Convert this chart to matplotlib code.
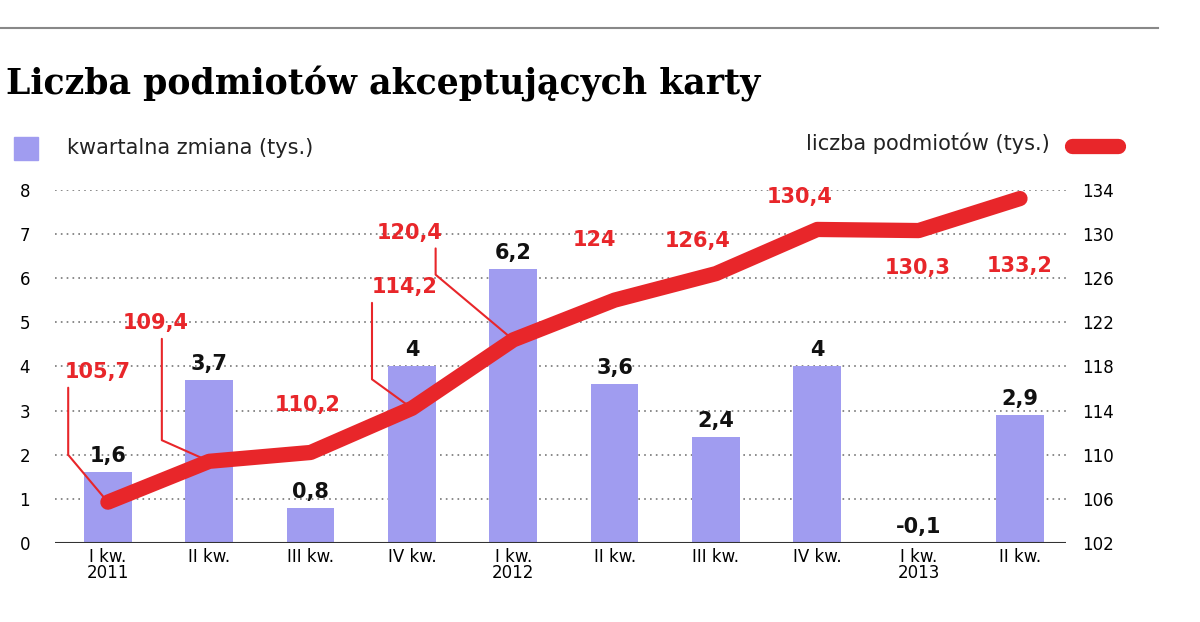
import matplotlib
matplotlib.use("Agg")
import matplotlib.pyplot as plt

categories = ["I kw.\n2011", "II kw.", "III kw.", "IV kw.", "I kw.\n2012", "II kw.", "III kw.", "IV kw.", "I kw.\n2013", "II kw."]
change = [1.6, 3.7, 0.8, 4, 6.2, 3.6, 2.4, 4, -0.1, 2.9]
total = [105.7, 109.4, 110.2, 114.2, 120.4, 124, 126.4, 130.4, 130.3, 133.2]
change_lbl = ["1,6", "3,7", "0,8", "4", "6,2", "3,6", "2,4", "4", "-0,1", "2,9"]
total_lbl = ["105,7", "109,4", "110,2", "114,2", "120,4", "124", "126,4", "130,4", "130,3", "133,2"]
# label offsets (pixels); leader: (relpos x, angle of diagonal) or None
offsets = [(-10, 130), (-54, 138), (-3, 47), (-7, 121), (-104, 107), (-20, 60), (-18, 33), (-18, 32), (-1, -37), (0, -67)]
leaders = [(0.05, -50), (0.6, -24), None, (0.0, -36), (0.9, -40), None, None, None, None, None]

BAR = "#a09cf0"; RED = "#e8262a"
fig = plt.figure(figsize=(12, 6.22), dpi=100)
fig.add_artist(plt.Line2D([0, 0.965], [0.955, 0.955], color="#888888", lw=1.5))
fig.text(0.005, 0.865, "Liczba podmiotów akceptujących karty", family="DejaVu Serif", weight="bold", fontsize=25, va="center")
fig.patches.append(plt.Rectangle((0.012, 0.742), 0.02, 0.037, transform=fig.transFigure, color=BAR))
fig.text(0.056, 0.762, "kwartalna zmiana (tys.)", fontsize=15, va="center", color="#222")
fig.text(0.875, 0.77, "liczba podmiotów (tys.)", fontsize=15, va="center", ha="right", color="#222")
fig.add_artist(plt.Line2D([0.893, 0.932], [0.765, 0.765], color=RED, lw=11, solid_capstyle="round"))

ax = fig.add_axes([0.046, 0.127, 0.842, 0.568])
x = list(range(len(categories)))
ax.bar(x, change, width=0.47, color=BAR, zorder=2)
ax.set_ylim(0, 8); ax.set_xlim(-0.52, 9.45)
ax.set_yticks(range(0, 9))
for y in range(1, 9):
    ax.axhline(y, color="#777", ls=(0, (1, 2.5)), lw=1.2, zorder=1)
for s in ax.spines.values(): s.set_visible(False)
ax.axhline(0, color="#333", lw=1.5, zorder=3)
ax.set_xticks(x); ax.set_xticklabels(categories, fontsize=12, linespacing=0.9)
ax.tick_params(axis="both", length=0, labelsize=12)
ax.tick_params(axis="y", pad=18)
for i, v in enumerate(change):
    ax.annotate(change_lbl[i], (i, max(v, 0)), xytext=(0, 6), textcoords="offset pixels",
                ha="center", va="bottom", fontsize=15, weight="bold", color="#111")

ax2 = ax.twinx()
ax2.set_ylim(102, 134); ax2.set_yticks(range(102, 135, 4))
for s in ax2.spines.values(): s.set_visible(False)
ax2.tick_params(axis="y", length=0, labelsize=12, pad=12)
ax2.plot(x, total, color=RED, lw=11, solid_capstyle="round", solid_joinstyle="round", zorder=4)
for i, v in enumerate(total):
    dx, dy = offsets[i]
    ap = None
    if leaders[i]:
        rp, ang = leaders[i]
        ap = dict(arrowstyle="-", color=RED, lw=1.5, relpos=(rp, 0),
                  connectionstyle=f"angle,angleA=-90,angleB={ang},rad=0",
                  shrinkA=2, shrinkB=3)
    ax2.annotate(total_lbl[i], (i, v), xytext=(dx, dy), textcoords="offset pixels",
                 ha="center", va="center", fontsize=15, weight="bold", color=RED,
                 arrowprops=ap, zorder=5)
fig.savefig("out.png", dpi=100)
